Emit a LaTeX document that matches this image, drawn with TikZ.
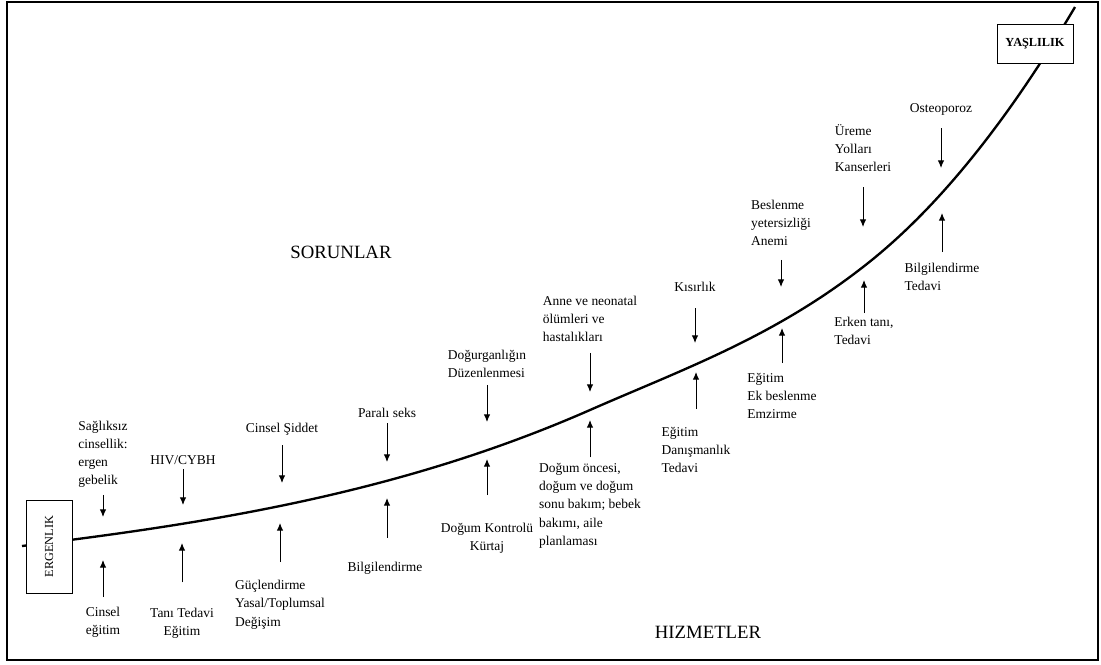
\documentclass[tikz,border=0pt]{standalone}
\usepackage{fontspec}
\setmainfont{Liberation Serif}
\usetikzlibrary{arrows.meta}

\begin{document}
\begin{tikzpicture}[x=0.03cm, y=-0.03cm,
    lbl/.style={font=\fontsize{11.5}{15.5}\selectfont, align=left, inner sep=1pt},
    sorun/.style={-{Latex[length=6.5pt,width=5.5pt]}, line width=0.8pt},
    hizmet/.style={-{Latex[length=6.5pt,width=5.5pt]}, line width=0.8pt},
    stage/.style={draw, fill=white, line width=0.8pt, inner sep=0pt}]
        \useasboundingbox (0,0) rectangle (1101,664);
        \draw[line width=2.5pt] (7,2) rectangle (1098,660);

        % yasam egrisi
        \draw[line width=2pt] (22,546) .. controls (211,523) and (401,493) .. (590,410)
            .. controls (681,370) and (772,338) .. (863,267)
            .. controls (934,212) and (1004,127) .. (1075,7);

        \node[stage, rotate=90, minimum width=2.79cm, minimum height=1.38cm, font=\fontsize{10.5}{12}\selectfont] (ergen) at (49,546.5) {ERGENLIK};
        \node[stage, minimum width=2.28cm, minimum height=1.17cm, font=\bfseries\fontsize{10.5}{12}\selectfont] (yasli) at (1035,43.5) {YAŞLILIK};

        \node[font=\fontsize{16}{18}\selectfont] (sorunlar) at (341,252) {SORUNLAR};
        \node[font=\fontsize{16}{18}\selectfont] (hizmetler) at (708,632) {HIZMETLER};

        % sorunlar
        \node[lbl, anchor=south] (p1) at (103,489) {Sağlıksız\\cinsellik:\\ergen\\gebelik};
        \node[lbl, anchor=south] (p2) at (183,466) {HIV/CYBH};
        \node[lbl, anchor=south] (p3) at (282,437) {Cinsel Şiddet};
        \node[lbl, anchor=south] (p4) at (387,419) {Paralı seks};
        \node[lbl, anchor=south] (p5) at (487,379) {Doğurganlığın\\Düzenlenmesi};
        \node[lbl, anchor=south] (p6) at (590,343) {Anne ve neonatal\\ölümleri ve\\hastalıkları};
        \node[lbl, anchor=south] (p7) at (695,293) {Kısırlık};
        \node[lbl, anchor=south] (p8) at (781,247) {Beslenme\\yetersizliği\\Anemi};
        \node[lbl, anchor=south] (p9) at (863,173) {Üreme\\Yolları\\Kanserleri};
        \node[lbl, anchor=south] (p10) at (941,117) {Osteoporoz};

        \coordinate (pt1) at (103,517);
        \coordinate (pt2) at (183,505);
        \coordinate (pt3) at (282,483);
        \coordinate (pt4) at (387,462);
        \coordinate (pt5) at (487,422);
        \coordinate (pt6) at (590,392);
        \coordinate (pt7) at (695,343);
        \coordinate (pt8) at (781,287);
        \coordinate (pt9) at (863,227);
        \coordinate (pt10) at (941,168);

        \draw[sorun, shorten <=5pt] (p1) -- (pt1);
        \draw[sorun, shorten <=2.5pt] (p2) -- (pt2);
        \draw[sorun, shorten <=7pt] (p3) -- (pt3);
        \draw[sorun, shorten <=3.5pt] (p4) -- (pt4);
        \draw[sorun, shorten <=5pt] (p5) -- (pt5);
        \draw[sorun, shorten <=8.5pt] (p6) -- (pt6);
        \draw[sorun, shorten <=13pt] (p7) -- (pt7);
        \draw[sorun, shorten <=11pt] (p8) -- (pt8);
        \draw[sorun, shorten <=12pt] (p9) -- (pt9);
        \draw[sorun, shorten <=9.5pt] (p10) -- (pt10);

        % hizmetler
        \node[lbl, align=center, anchor=north] (h1) at (103,606) {Cinsel\\eğitim};
        \node[lbl, align=center, anchor=north] (h2) at (182,607) {Tanı Tedavi\\Eğitim};
        \node[lbl, anchor=north] (h3) at (280,579) {Güçlendirme\\Yasal/Toplumsal\\Değişim};
        \node[lbl, anchor=north] (h4) at (385,561) {Bilgilendirme};
        \node[lbl, align=center, anchor=north] (h5) at (487,522) {Doğum Kontrolü\\Kürtaj};
        \node[lbl, anchor=north] (h6) at (590,462) {Doğum öncesi,\\doğum ve doğum\\sonu bakım; bebek\\bakımı, aile\\planlaması};
        \node[lbl, anchor=north] (h7) at (696,426) {Eğitim\\Danışmanlık\\Tedavi};
        \node[lbl, anchor=north] (h8) at (782,372) {Eğitim\\Ek beslenme\\Emzirme};
        \node[lbl, anchor=north] (h9) at (864,316) {Erken tanı,\\Tedavi};
        \node[lbl, anchor=north] (h10) at (942,262) {Bilgilendirme\\Tedavi};

        \coordinate (ht1) at (103,560);
        \coordinate (ht2) at (182,543);
        \coordinate (ht3) at (280,523);
        \coordinate (ht4) at (387,498);
        \coordinate (ht5) at (487,459);
        \coordinate (ht6) at (590,420);
        \coordinate (ht7) at (696,372);
        \coordinate (ht8) at (782,328);
        \coordinate (ht9) at (864,280);
        \coordinate (ht10) at (942,213);

        \draw[hizmet, shorten <=7.5pt] (h1) -- (ht1);
        \draw[hizmet, shorten <=21pt] (h2) -- (ht2);
        \draw[hizmet, shorten <=14.5pt] (h3) -- (ht3);
        \draw[hizmet, shorten <=20pt] (h4.north -| ht4) -- (ht4);
        \draw[hizmet, shorten <=23pt] (h5) -- (ht5);
        \draw[hizmet, shorten <=4pt] (h6) -- (ht6);
        \draw[hizmet, shorten <=14.5pt] (h7) -- (ht7);
        \draw[hizmet, shorten <=7.5pt] (h8) -- (ht8);
        \draw[hizmet, shorten <=2.5pt] (h9) -- (ht9);
        \draw[hizmet, shorten <=8.5pt] (h10) -- (ht10);
\end{tikzpicture}
\end{document}
